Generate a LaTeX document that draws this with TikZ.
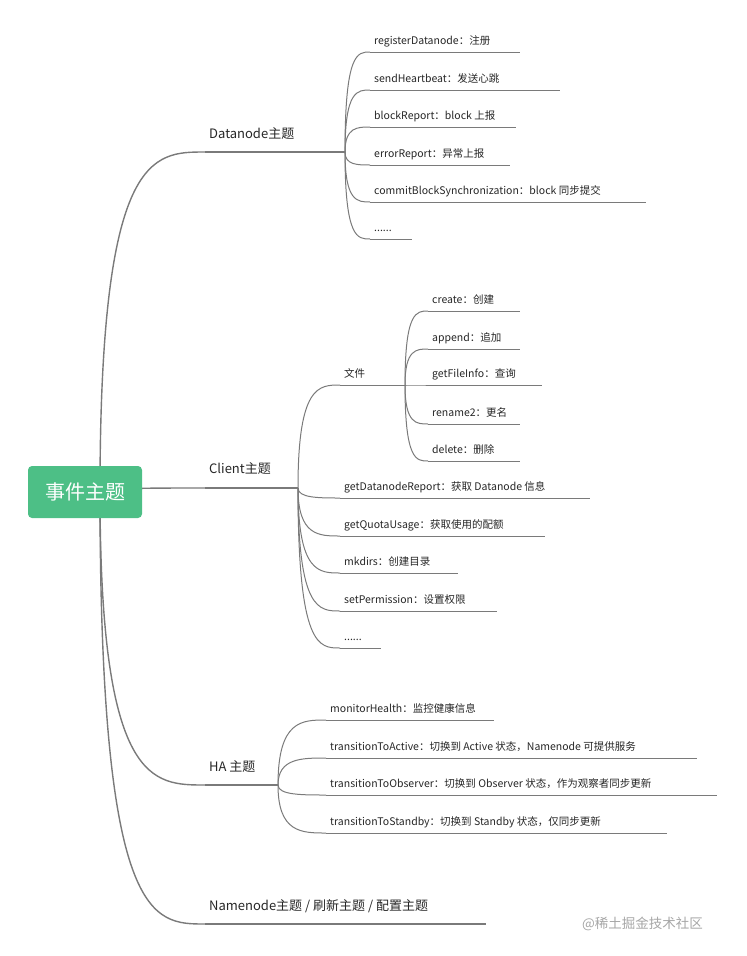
\documentclass[tikz,border=0pt]{standalone}
\usepackage{fontspec}
\setmainfont{Noto Sans CJK SC}
\usetikzlibrary{calc}
\definecolor{lc}{HTML}{7A7A7A}
\definecolor{rootc}{HTML}{4DBF86}
\tikzset{
 line/.style={draw=lc,line width=1pt},
 leaf/.style={anchor=base west,inner sep=0pt,font=\fontsize{10.5}{12}\selectfont,text=black!85},
 br/.style={anchor=base west,inner sep=0pt,font=\fontsize{13}{15}\selectfont,text=black!85},
}
\newcommand{\curv}[2]{\draw[line] (#1) .. controls (#1 |- #2) and ($(#1 |- #2)!0.5!(#2)$) .. (#2);}
\newcommand{\leaf}[6]{%
 \coordinate (#1s) at (#2,#3); \coordinate (#1e) at (#4,#3);
 \node[leaf] (#1) at (#2+4,#3-8) {#5};
 \curv{#6}{#1s}\draw[line] (#1s)--(#1e);}
\begin{document}
\begin{tikzpicture}[x=1pt,y=-1pt]
\useasboundingbox (0,0) rectangle (747,956);
\coordinate (r) at (100,492);
\begin{scope}[line/.append style={line width=1.4pt}]
\leaf{dn}{205}{152}{345}{}{r}
\leaf{cl}{205}{488}{298}{}{r}
\leaf{ha}{205}{785}{278}{}{r}
\leaf{nn}{205}{924}{486}{}{r}
\end{scope}
\node[br] (dnt) at (209,138) {Datanode主题};
\node[br] (clt) at (209,473) {Client主题};
\node[br] (hat) at (209,771) {HA 主题};
\node[br] (nnt) at (209,910) {Namenode主题 / 刷新主题 / 配置主题};
\node[fill=rootc,rounded corners=4pt,minimum width=114pt,minimum height=52pt,text=white,font=\fontsize{20}{24}\selectfont] (root) at (85,492) {事件主题};
\leaf{a1}{370}{52}{520}{registerDatanode：注册}{dne}
\leaf{a2}{370}{90}{560}{sendHeartbeat：发送心跳}{dne}
\leaf{a3}{370}{127}{516}{blockReport：block 上报}{dne}
\leaf{a4}{370}{165}{510}{errorReport：异常上报}{dne}
\leaf{a5}{370}{202}{646}{commitBlockSynchronization：block 同步提交}{dne}
\leaf{a6}{370}{239}{412}{......}{dne}
\leaf{f}{340}{385}{405}{文件}{cle}
\leaf{f1}{428}{311}{520}{create：创建}{fe}
\leaf{f2}{428}{349}{520}{append：追加}{fe}
\leaf{f3}{428}{385}{542}{getFileInfo：查询}{fe}
\leaf{f4}{428}{424}{520}{rename2：更名}{fe}
\leaf{f5}{428}{461}{520}{delete：删除}{fe}
\leaf{c2}{340}{498}{590}{getDatanodeReport：获取 Datanode 信息}{cle}
\leaf{c3}{340}{536}{545}{getQuotaUsage：获取使用的配额}{cle}
\leaf{c4}{340}{573}{458}{mkdirs：创建目录}{cle}
\leaf{c5}{340}{611}{497}{setPermission：设置权限}{cle}
\leaf{c6}{340}{648}{381}{......}{cle}
\leaf{h1}{326}{720}{494}{monitorHealth：监控健康信息}{hae}
\leaf{h2}{326}{758}{697}{transitionToActive：切换到 Active 状态，Namenode 可提供服务}{hae}
\leaf{h3}{326}{795}{717}{transitionToObserver：切换到 Observer 状态，作为观察者同步更新}{hae}
\leaf{h4}{326}{833}{667}{transitionToStandby：切换到 Standby 状态，仅同步更新}{hae}
\node[anchor=base west,inner sep=0pt,text=black!35,font=\fontsize{13.5}{15}\selectfont] (wm) at (582,928) {@稀土掘金技术社区};
\end{tikzpicture}
\end{document}
